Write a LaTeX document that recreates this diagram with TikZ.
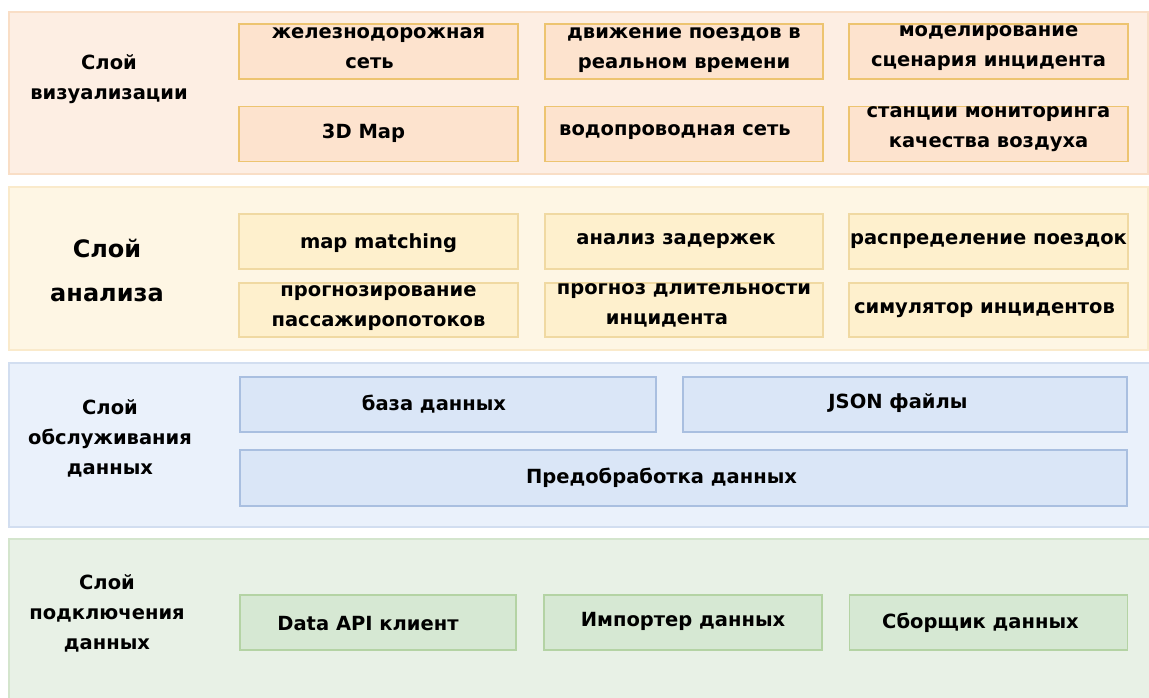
\documentclass[tikz,border=0pt]{standalone}
\usepackage{fontspec}
\setmainfont{DejaVu Sans}
\begin{document}
\begin{tikzpicture}[x=1pt,y=-1pt,
  every node/.style={font=\bfseries\fontsize{19.5}{30}\selectfont, align=center, inner sep=0pt},
  item/.style={rectangle, line width=1.8pt, minimum height=55pt, inner sep=0pt},
  vitem/.style={item, draw=visB, fill=visI},
  aitem/.style={item, draw=anaB, fill=anaI},
  sitem/.style={item, draw=srvB, fill=srvI},
  citem/.style={item, draw=conB, fill=conI},
  lbl/.style={text=black}
]
\definecolor{visL}{HTML}{FDEEE3}\definecolor{visLB}{HTML}{F9DEC6}
\definecolor{visI}{HTML}{FDE3CE}\definecolor{visB}{HTML}{EDC470}
\definecolor{anaL}{HTML}{FEF6E4}\definecolor{anaLB}{HTML}{FAEACB}
\definecolor{anaI}{HTML}{FEF0CD}\definecolor{anaB}{HTML}{F0D9A2}
\definecolor{srvL}{HTML}{EAF1FB}\definecolor{srvLB}{HTML}{D2DEF0}
\definecolor{srvI}{HTML}{DAE6F7}\definecolor{srvB}{HTML}{A9BFE0}
\definecolor{conL}{HTML}{E8F1E6}\definecolor{conLB}{HTML}{D4E5CD}
\definecolor{conI}{HTML}{D6E8D3}\definecolor{conB}{HTML}{B4D3A4}

% canvas
\fill[white] (0,0) rectangle (1149,697);
\useasboundingbox (0,0) rectangle (1149,697);

% layer bands
\filldraw[fill=visL, draw=visLB, line width=1.2pt] (9,12) rectangle (1148,174);
\filldraw[fill=anaL, draw=anaLB, line width=1.2pt] (9,187) rectangle (1148,350);
\filldraw[fill=srvL, draw=srvLB, line width=1.2pt] (9,363) rectangle (1152,527);
\filldraw[fill=conL, draw=conLB, line width=1.2pt] (9,539) rectangle (1152,700);

% visualization layer
\node[lbl] (lv) at (109,79) {Слой\\визуализации};
\node[vitem, minimum width=279pt] (v1) at (378.5,51.5) {};
\node (v1t) at (v1) [yshift=3.5pt] {железнодорожная\\\hspace*{-18pt}сеть};
\node[vitem, minimum width=278pt] (v2) at (684,51.5) {};
\node (v2t) at (v2) [yshift=1.5pt] {движение поездов в\\реальном времени};
\node[vitem, minimum width=279pt] (v3) at (988.5,51.5) {};
\node (v3t) at (v3) [yshift=3.5pt] {моделирование\\сценария инцидента};
\node[vitem, minimum width=279pt] (v4) at (378.5,134) {};
\node (v4t) at (v4) [xshift=-15pt, yshift=1pt] {3D Map};
\node[vitem, minimum width=278pt] (v5) at (684,134) {};
\node (v5t) at (v5) [xshift=-9pt, yshift=1.5pt] {водопроводная сеть};
\node[vitem, minimum width=279pt] (v6) at (988.5,134) {};
\node (v6t) at (v6) [yshift=5pt] {станции мониторинга\\качества воздуха};

% analysis layer
\node[lbl, font=\bfseries\fontsize{24}{44}\selectfont] (la) at (107,270) {Слой\\анализа};
\node[aitem, minimum width=279pt] (a1) at (378.5,241.5) {};
\node (a1t) at (a1) [yshift=-2pt] {map matching};
\node[aitem, minimum width=278pt] (a2) at (684,241.5) {};
\node (a2t) at (a2) [xshift=-8pt] {анализ задержек};
\node[aitem, minimum width=279pt] (a3) at (988.5,241.5) {};
\node (a3t) at (a3) {распределение поездок};
\node[aitem, minimum width=279pt, minimum height=54pt] (a4) at (378.5,310) {};
\node (a4t) at (a4) [yshift=2pt] {прогнозирование\\пассажиропотоков};
\node[aitem, minimum width=278pt, minimum height=54pt] (a5) at (684,310) {};
\node (a5t) at (a5) [yshift=5pt] {прогноз длительности\\\hspace*{-34pt}инцидента};
\node[aitem, minimum width=279pt, minimum height=54pt] (a6) at (988.5,310) {};
\node (a6t) at (a6) [xshift=-4pt] {симулятор инцидентов};

% data service layer
\node[lbl] (ls) at (110,438) {Слой\\обслуживания\\данных};
\node[sitem, minimum width=416pt] (s1) at (448,404.5) {};
\node (s1t) at (s1) [xshift=-14pt] {база данных};
\node[sitem, minimum width=444pt] (s2) at (905,404.5) {};
\node (s2t) at (s2) [xshift=-7pt, yshift=1pt] {JSON файлы};
\node[sitem, minimum width=887pt, minimum height=56pt] (s3) at (683.5,478) {};
\node (s3t) at (s3) [xshift=-22pt] {Предобработка данных};

% data connection layer
\node[lbl] (lc) at (107,613) {Слой\\подключения\\данных};
\node[citem, minimum width=276pt] (c1) at (378,622.5) {};
\node (c1t) at (c1) [xshift=-10pt, yshift=-1.5pt] {Data API клиент};
\node[citem, minimum width=278pt] (c2) at (683,622.5) {};
\node (c2t) at (c2) [yshift=1.5pt] {Импортер данных};
\node[citem, minimum width=278pt] (c3) at (988.5,622.5) {};
\node (c3t) at (c3) [xshift=-8pt] {Сборщик данных};
\end{tikzpicture}
\end{document}
